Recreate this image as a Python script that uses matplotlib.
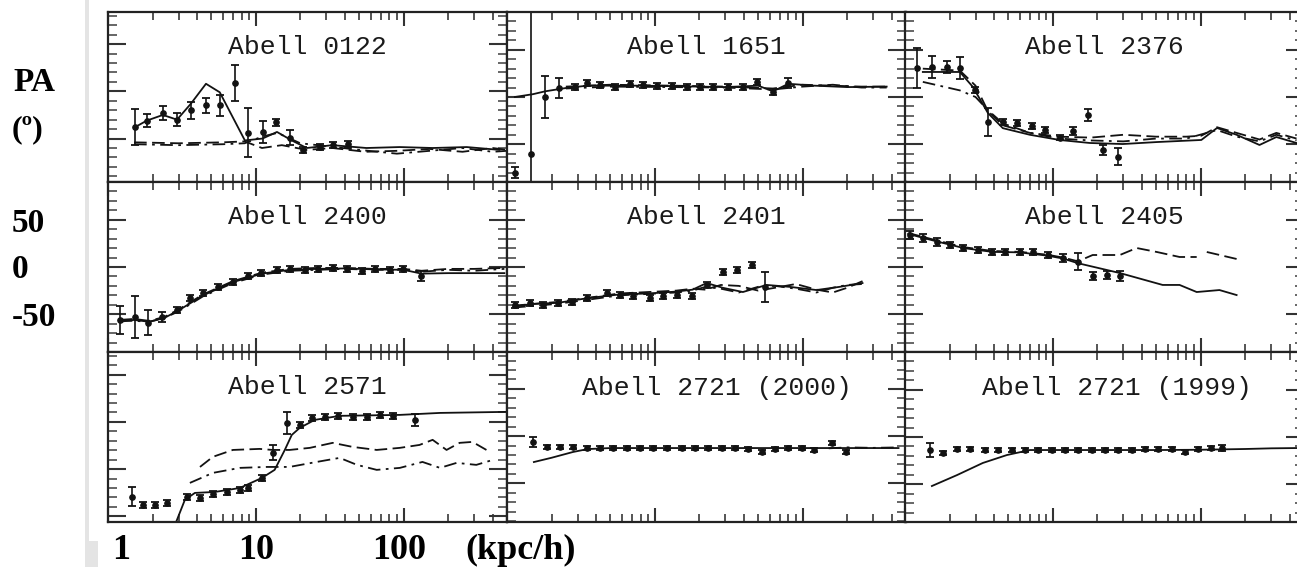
import numpy as np
import matplotlib
matplotlib.use("Agg")
import matplotlib.pyplot as plt
from matplotlib.ticker import LogLocator, MultipleLocator, NullFormatter
from matplotlib.patches import Rectangle

W, H = 1297, 567

# ---- position angle profiles: radius (kpc/h), PA (deg), error (deg) ----
a0122_r = [1.52, 1.83, 2.35, 2.93, 3.64, 4.59, 5.71, 7.21, 8.83, 11.1, 13.6, 17.0, 20.8, 27.1, 33.1, 41.8]
a0122_pa = [-38, -31, -23, -30, -20, -15, -15, 8.5, -44, -43, -33, -49, -62, -59, -57, -56]
a0122_err = [19, 7, 7, 7, 9, 8, 11, 19, 26, 12, 4, 8, 3, 3, 3, 3]
a0122_solid_r = [1.52, 1.83, 2.35, 2.93, 3.64, 4.6, 5.7, 8.43, 11.1, 13.9, 17.5, 22.1, 33, 56, 94, 157, 267, 445]
a0122_solid_pa = [-38, -31, -25, -30, -13, 8, -1, -52, -50, -43, -52, -60, -57, -60, -59, -60, -59, -62]
a0122_dash_r = [1.5, 3, 6, 8.4, 11, 15, 22, 33, 55, 90, 150, 250, 400, 500]
a0122_dash_pa = [-54, -55, -54, -53, -60, -57, -62, -60, -64, -63, -61, -64, -60, -62]
a0122_dot_r = [1.5, 3, 6, 8.4, 11, 14, 20, 30, 50, 90, 150, 250, 400, 500]
a0122_dot_pa = [-56, -57, -56, -55, -48, -44, -55, -58, -62, -66, -63, -60, -64, -63]

a1651_r = [1.13, 1.45, 1.81, 2.25, 2.88, 3.47, 4.25, 5.37, 6.78, 8.29, 10.3, 13.0, 16.5, 20.1,
           24.7, 31.1, 39.3, 48.9, 62.7, 79.2]
a1651_pa = [-80, -60, 0, 9.5, 10.6, 14.8, 12.7, 10.6, 13.8, 12.7, 11.7, 11.7, 10.6, 10.6,
            10.6, 10.6, 10.6, 15.9, 5.3, 14.8]
a1651_err = [6, 200, 22, 11, 3, 3, 3, 3, 3, 3, 3, 3, 3, 3, 3, 3, 3, 3, 3, 5]
a1651_solid_r = [1.13, 1.5, 1.81, 2.5, 3.5, 5, 8, 13, 20, 30, 50, 63, 80, 120, 200, 370]
a1651_solid_pa = [0, 3, 6, 9.5, 12, 12, 12, 11.5, 11, 10.5, 12, 6, 14, 12, 10.5, 11]
a1651_dash_r = [2.5, 5, 13, 30, 63, 100, 160, 250, 370]
a1651_dash_pa = [11, 13, 12, 11, 9, 13, 12, 11, 11]
a1651_dot_r = [2.5, 5, 13, 30, 63, 100, 160, 250, 370]
a1651_dot_pa = [9, 11, 10.5, 10, 8, 11, 13, 10, 10]

a2376_r = [1.21, 1.52, 1.92, 2.35, 2.97, 3.64, 4.59, 5.71, 7.21, 8.83, 11.1, 13.6, 17.2, 21.8, 27.5]
a2376_pa = [30.7, 31.8, 31.8, 30.7, 7.4, -26.5, -26.5, -27.5, -30.7, -35, -43, -36, -19, -56, -63.5]
a2376_err = [21, 12, 6, 12, 3, 15, 3, 3, 3, 3, 3, 4, 6, 5, 9]
a2376_solid_r = [1.32, 2.35, 2.88, 3.64, 4.59, 6.99, 11.1, 17.8, 29.7, 50.5, 101, 129, 175, 250, 325, 445]
a2376_solid_pa = [26.5, 26.5, 10.6, -17, -33, -40, -45.5, -48.7, -49.8, -47.7, -45.5, -32.8, -40, -50.8, -42.4, -48.7]
a2376_dash_r = [1.32, 2.35, 3, 3.64, 4.6, 7, 11, 18, 30, 50, 80, 101, 129, 175, 250, 325, 445]
a2376_dash_pa = [30, 28, 12, -15, -30, -38, -42, -43, -40, -42, -42, -41, -32, -38, -45, -38, -44]
a2376_dot_r = [1.32, 2.35, 3.0, 3.64, 4.6, 7, 11, 18, 30, 50, 80, 129, 175, 250, 325, 445]
a2376_dot_pa = [16, 7, 0, -14, -28, -38, -44, -46, -47, -44, -44, -35, -42, -47, -40, -46]

a2400_r = [1.21, 1.52, 1.86, 2.32, 2.93, 3.58, 4.39, 5.54, 6.99, 8.83, 10.9, 13.8, 17.0, 21.4,
           26.2, 33.1, 41.1, 51.9, 63.5, 80.3, 98.5, 132]
a2400_pa = [-56, -53, -59, -53, -45.5, -33, -27.5, -21, -16, -9.5, -6.4, -3.2, -2.1, -3.2,
            -2.1, -1.1, -2.1, -4.2, -2.1, -3.2, -2.1, -9.5]
a2400_err = [15, 22, 13, 5, 3, 3, 3, 3, 3, 3, 3, 3, 3, 3, 3, 3, 3, 3, 3, 3, 3, 5]
a2400_solid_r = [1.2, 1.5, 1.9, 2.4, 3, 4.4, 7, 11, 17, 26, 40, 63, 100, 132, 200, 300, 480]
a2400_solid_pa = [-58, -56, -58, -54, -46, -30, -16, -7, -3, -2, -1.5, -2.5, -3, -7, -6.5, -6.5, -6.5]
a2400_dash_r = [1.2, 1.5, 1.9, 2.4, 3, 4.4, 7, 11, 17, 26, 40, 63, 100, 132, 200, 300, 480]
a2400_dash_pa = [-56, -55, -57, -53, -45, -29, -15, -6, -2, -1, -1, -2, -2, -4, -2, -2, -1]
a2400_dot_r = [1.2, 1.5, 1.9, 2.4, 3, 4.4, 7, 11, 17, 26, 40, 63, 100, 132, 200, 300, 480]
a2400_dot_pa = [-57, -57, -58, -54, -47, -31, -17, -8, -4, -3, -2, -3, -3, -5, -3, -4, -2]

a2401_r = [1.13, 1.43, 1.75, 2.21, 2.75, 3.47, 4.74, 5.80, 7.10, 9.25, 11.3, 14.1, 17.8, 22.4,
           28.8, 35.8, 45.2, 55.4]
a2401_pa = [-40, -38, -40, -38, -37, -33, -27.5, -29.7, -30.7, -33, -30.7, -29.7, -30.7, -19,
            -5.3, -3.2, 2.1, -21]
a2401_err = [3, 3, 3, 3, 3, 3, 3, 3, 3, 3, 3, 3, 3, 3, 3, 3, 3, 16]
a2401_solid_r = [1.1, 1.5, 2.2, 3.5, 5.8, 9.2, 14, 18, 22.4, 28.8, 39.4, 57, 81.5, 124, 178, 254]
a2401_solid_pa = [-42, -39, -38, -33, -29, -28, -26, -24, -17, -22, -26.5, -19, -21, -24.4, -21, -17]
a2401_dash_r = [1.1, 2.2, 5.8, 14, 18, 22, 28, 37, 50, 65, 90, 124, 160, 200, 254]
a2401_dash_pa = [-41, -37, -28, -25, -23, -24, -19, -20, -25, -22, -18, -24, -27, -22, -15]
a2401_dot_r = [1.1, 2.2, 5.8, 14, 18, 22, 28, 37, 50, 65, 90, 124, 160, 200, 254]
a2401_dot_pa = [-43, -39, -30, -27, -25, -21, -23, -27, -21, -20, -23, -27, -22, -19, -18]

a2405_r = [1.08, 1.32, 1.65, 2.01, 2.47, 3.11, 3.87, 4.74, 5.98, 7.32, 9.25, 11.7, 14.8, 18.6, 23.2, 28.4]
a2405_pa = [34, 30.7, 26.5, 23.3, 20.1, 18, 15.9, 15.9, 15.9, 15.9, 12.7, 9.5, 5.3, -9.5, -8.5, -9.5]
a2405_err = [4, 4, 4, 3, 3, 3, 3, 3, 3, 3, 3, 4, 9, 4, 4, 5]
a2405_solid_r = [1.05, 1.65, 2.5, 3.9, 6, 9.2, 11.7, 14.8, 28.4, 55.3, 72, 94, 134, 175]
a2405_solid_pa = [35, 27, 20, 16, 15.5, 12, 9, 4, -6.4, -19, -19, -26.5, -24.4, -29.7]
a2405_dash_r = [1.05, 1.65, 2.5, 3.9, 6, 9.2, 11.7, 14.8, 18.6, 28.4, 36.9, 50.5, 72, 94, np.nan, 110, 175]
a2405_dash_pa = [36, 28, 21, 17, 16, 13, 10, 6, 12.7, 12.7, 20.1, 15.9, 10.6, 10.6, np.nan, 15.9, 8.5]

a2571_r = [1.45, 1.72, 2.08, 2.50, 3.42, 4.19, 5.12, 6.37, 7.79, 8.83, 11.0, 13.0, 16.2, 19.8,
           23.9, 29.2, 35.8, 45.2, 56.2, 68.8, 84.3, 119]
a2571_pa = [-79.4, -87.9, -87.9, -85.8, -79.4, -80.5, -76.3, -74.2, -72, -70, -59.3, -32.8, -1.1,
            -3.2, 4.2, 5.3, 6.4, 5.3, 5.3, 7.4, 6.4, 2.1]
a2571_err = [10, 3, 3, 3, 3, 3, 3, 3, 3, 3, 3, 8, 12, 3, 3, 3, 3, 3, 3, 3, 3, 6]
a2571_solid_r = [2.84, 3.31, 3.87, 5.28, 7.79, 11.0, 13.4, 15.7, 17.5, 19.8, 25, 36.9, 94, 176, 497]
a2571_solid_pa = [-109, -82.6, -75.2, -74.2, -70, -59.3, -50.8, -29.7, -13.8, -6.4, 2.1, 6.4, 7.4, 9.5, 10.6]
a2571_dash_r = [4.19, 5.12, 6.99, 10.6, 13.0, 16.9, 23.2, 33.1, 45.2, 65.7, 94.2, 128, 157, 195, 239, 292, 363]
a2571_dash_pa = [-47.7, -37, -29.7, -28.6, -29.7, -29.7, -27.5, -22.2, -26.5, -29.7, -27.5, -24.4, -19,
                 -29.7, -22.2, -21.2, -29.7]
a2571_dot_r = [3.58, 5.12, 7.79, 11.9, 16.9, 25.8, 36.9, 48.3, 65.7, 94.2, 134, 176, 228, 310, 400]
a2571_dot_pa = [-64.6, -54, -48.7, -47.7, -47.7, -42.4, -38.1, -45.5, -50.8, -48.7, -42.4, -48.7,
                -43.4, -45.5, -40.3]

a2721a_r = [1.50, 1.86, 2.28, 2.79, 3.47, 4.25, 5.21, 6.46, 7.92, 9.70, 12.0, 15.2, 18.6, 22.8,
            28.4, 34.8, 42.6, 52.8, 64.7, 79.2, 98.3, 120, 159, 197]
a2721a_pa = [-6.4, -11.7, -11.7, -11.7, -12.7, -12.7, -12.7, -12.7, -12.7, -12.7, -12.7, -12.7,
             -12.7, -12.7, -12.7, -12.7, -13.8, -16.9, -13.8, -12.7, -12.7, -14.8, -7.4, -16.9]
a2721a_err = [5, 2, 2, 2, 2, 2, 2, 2, 2, 2, 2, 2, 2, 2, 2, 2, 2, 2, 2, 2, 2, 2, 2, 2]
a2721a_solid_r = [1.52, 2.0, 2.79, 3.5, 5, 10, 20, 50, 100, 200, 300, 445]
a2721a_solid_pa = [-27.5, -23, -16.9, -13.8, -12.7, -12.7, -12.7, -12.7, -12.7, -12.7, -12.7, -12.7]
a2721a_dash_r = [150, 200, 300, 445]
a2721a_dash_pa = [-13, -12, -12.5, -12]

a2721b_r = [1.48, 1.81, 2.25, 2.75, 3.47, 4.25, 5.28, 6.46, 7.92, 9.84, 12.1, 14.8, 18.3, 22.4,
            27.5, 34.2, 41.8, 51.3, 63.5, 77.9, 95.5, 118, 139]
a2721b_pa = [-13.8, -16.9, -12.7, -12.7, -13.8, -13.8, -13.8, -13.8, -13.8, -13.8, -13.8, -13.8,
             -13.8, -13.8, -13.8, -13.8, -12.7, -12.7, -12.7, -15.9, -12.7, -11.7, -11.7]
a2721b_err = [7, 2, 2, 2, 2, 2, 2, 2, 2, 2, 2, 2, 2, 2, 2, 2, 2, 2, 2, 2, 2, 2, 3]
a2721b_solid_r = [1.52, 2.25, 3.36, 4.89, 6.99, 10, 20, 50, 100, 200, 300, 445]
a2721b_solid_pa = [-51.9, -40.3, -27.5, -19.1, -13.8, -13.8, -13.8, -13.8, -13.5, -12.7, -12, -11.7]

titles = ["Abell 0122", "Abell 1651", "Abell 2376",
          "Abell 2400", "Abell 2401", "Abell 2405",
          "Abell 2571", "Abell 2721 (2000)", "Abell 2721 (1999)"]

panels = [
    (a0122_r, a0122_pa, a0122_err, [(a0122_solid_r, a0122_solid_pa, "-"),
                                    (a0122_dash_r, a0122_dash_pa, "--"),
                                    (a0122_dot_r, a0122_dot_pa, "-.")]),
    (a1651_r, a1651_pa, a1651_err, [(a1651_solid_r, a1651_solid_pa, "-"),
                                    (a1651_dash_r, a1651_dash_pa, "--"),
                                    (a1651_dot_r, a1651_dot_pa, "-.")]),
    (a2376_r, a2376_pa, a2376_err, [(a2376_solid_r, a2376_solid_pa, "-"),
                                    (a2376_dash_r, a2376_dash_pa, "--"),
                                    (a2376_dot_r, a2376_dot_pa, "-.")]),
    (a2400_r, a2400_pa, a2400_err, [(a2400_solid_r, a2400_solid_pa, "-"),
                                    (a2400_dash_r, a2400_dash_pa, "--"),
                                    (a2400_dot_r, a2400_dot_pa, "-.")]),
    (a2401_r, a2401_pa, a2401_err, [(a2401_solid_r, a2401_solid_pa, "-"),
                                    (a2401_dash_r, a2401_dash_pa, "--"),
                                    (a2401_dot_r, a2401_dot_pa, "-.")]),
    (a2405_r, a2405_pa, a2405_err, [(a2405_solid_r, a2405_solid_pa, "-"),
                                    (a2405_dash_r, a2405_dash_pa, "--")]),
    (a2571_r, a2571_pa, a2571_err, [(a2571_solid_r, a2571_solid_pa, "-"),
                                    (a2571_dash_r, a2571_dash_pa, "--"),
                                    (a2571_dot_r, a2571_dot_pa, "-.")]),
    (a2721a_r, a2721a_pa, a2721a_err, [(a2721a_solid_r, a2721a_solid_pa, "-"),
                                       (a2721a_dash_r, a2721a_dash_pa, "-.")]),
    (a2721b_r, a2721b_pa, a2721b_err, [(a2721b_solid_r, a2721b_solid_pa, "-")]),
]

# panel frame layout in pixels, and PA range of each panel
col_left = [108, 507, 905]
row_top = [12, 182, 352]
pw, ph = 399, 170
ylims = [(-96, 84), (-90, 90), (-90, 90),
         (-90, 90), (-90, 90), (-90, 90),
         (-106, 74), (-91, 89), (-90, 90)]
title_x = [0.5, 0.5, 0.5, 0.5, 0.5, 0.5, 0.5, 0.525, 0.53]

dash_styles = {"-": "-", "--": (0, (7, 3)), "-.": (0, (7, 3, 1.5, 3))}

fig = plt.figure(figsize=(W / 100, H / 100), dpi=100)
fig.patch.set_facecolor("white")

# thin grey frame strip on the left
fig.add_artist(Rectangle((85 / W, 0), 4 / W, 1, transform=fig.transFigure,
                         color="#e4e4e4", lw=0))
fig.add_artist(Rectangle((85 / W, 0), 13 / W, 26 / H, transform=fig.transFigure,
                         color="#e4e4e4", lw=0))

ink = "#121212"
for i, (r, pa, err, lines) in enumerate(panels):
    row, col = divmod(i, 3)
    x0 = col_left[col] / W
    y0 = 1 - (row_top[row] + ph) / H
    ax = fig.add_axes([x0, y0, pw / W, ph / H])
    ax.set_xscale("log")
    ax.set_xlim(1, 500)
    ax.set_ylim(*ylims[i])

    for lr, lpa, ls in lines:
        ax.plot(lr, lpa, color=ink, lw=1.3, ls=dash_styles[ls])
    ax.errorbar(r, pa, yerr=err, fmt="o", ms=3.8, color=ink, ecolor=ink,
                elinewidth=1.2, capsize=3, capthick=1.3)

    ax.text(title_x[i], 0.75, titles[i], transform=ax.transAxes, ha="center",
            va="baseline", family="Liberation Mono", fontsize=19, color="#1a1a1a")

    ax.xaxis.set_major_locator(LogLocator(base=10))
    ax.xaxis.set_minor_locator(LogLocator(base=10, subs=np.arange(2, 10)))
    ax.yaxis.set_major_locator(MultipleLocator(50))
    ax.yaxis.set_minor_locator(MultipleLocator(10))
    ax.xaxis.set_major_formatter(NullFormatter())
    ax.xaxis.set_minor_formatter(NullFormatter())
    ax.yaxis.set_major_formatter(NullFormatter())
    ax.tick_params(which="both", direction="in", top=True, right=True)
    ax.tick_params(axis="x", which="major", length=10, width=1.5, color="#333")
    ax.tick_params(axis="x", which="minor", length=6, width=1.4, color="#555")
    ax.tick_params(axis="y", which="major", length=13, width=1.5, color="#333")
    ax.tick_params(axis="y", which="minor", length=6.5, width=1.4, color="#666")
    for s in ax.spines.values():
        s.set_linewidth(1.6)
        s.set_color("#222")

# axis annotations drawn as figure text
lab = dict(family="Liberation Serif", weight="bold", color="black", ha="left")
fig.text(13 / W, 1 - 91 / H, "PA", va="baseline", fontsize=24, **lab)
fig.text(12 / W, 1 - 130 / H, "(º)", va="center", fontsize=23, **lab)
fig.text(12 / W, 1 - 232 / H, "50", va="baseline", fontsize=24, **lab)
fig.text(12 / W, 1 - 278 / H, "0", va="baseline", fontsize=24, **lab)
fig.text(12 / W, 1 - 326 / H, "-50", va="baseline", fontsize=24, **lab)
fig.text(112 / W, 1 - 559 / H, "1", va="baseline", fontsize=26, **lab)
fig.text(238 / W, 1 - 559 / H, "10", va="baseline", fontsize=26, **lab)
fig.text(372 / W, 1 - 559 / H, "100", va="baseline", fontsize=26, **lab)
fig.text(465 / W, 1 - 559 / H, "(kpc/h)", va="baseline", fontsize=26, **lab)

fig.savefig("out.png", dpi=100)
